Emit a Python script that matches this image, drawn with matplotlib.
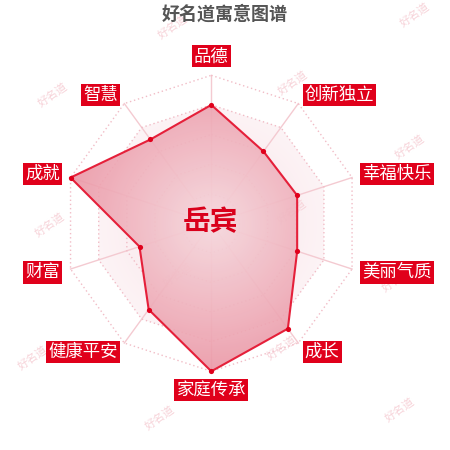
import numpy as np
import matplotlib
matplotlib.use('Agg')
import matplotlib.pyplot as plt
from matplotlib.path import Path
from matplotlib.patches import PathPatch, Polygon

plt.rcParams['font.family'] = ['Noto Sans CJK SC', 'DejaVu Sans']

# data
title = '好名道寓意图谱'
name = '岳宾'
categories = ['品德', '创新独立', '幸福快乐', '美丽气质', '成长',
              '家庭传承', '健康平安', '财富', '成就', '智慧']
values = [80, 60, 61, 61, 88, 100, 72, 51, 100, 70]
max_value = 100
ring_levels = [0.2, 0.4, 0.6, 0.8, 1.0]
watermarks = [(173, 27), (415, 15), (53, 95), (293, 83), (410, 147),
              (50, 225), (292, 212), (397, 280), (178, 275),
              (33, 358), (282, 348), (160, 418), (400, 410)]

RED = '#e0001b'
cx, cy, R = 211.3, 223.3, 148.0

fig = plt.figure(figsize=(4.5, 4.5), dpi=100)
ax = fig.add_axes([0, 0, 1, 1])
ax.set_xlim(0, 450)
ax.set_ylim(450, 0)
ax.axis('off')

n = len(categories)
angles = np.pi / 2 - np.arange(n) * 2 * np.pi / n


def pts(rs):
    rs = np.asarray(rs, dtype=float)
    return np.column_stack([cx + rs * R * np.cos(angles), cy - rs * R * np.sin(angles)])


# radial gradient helper
yy, xx = np.mgrid[0:450, 0:450]
rr = np.hypot(xx - cx, yy - cy) / R


def gradient_img(c0, c1, rmax):
    t = np.clip(rr / rmax, 0, 1)[..., None]
    c0 = np.array(c0) / 255.0
    c1 = np.array(c1) / 255.0
    return c0 * (1 - t) + c1 * t


# background inside 0.8 ring
bg_poly = pts([0.8] * n)
bg_clip = PathPatch(Path(np.vstack([bg_poly, bg_poly[:1]]), closed=True),
                    facecolor='none', edgecolor='none')
ax.add_patch(bg_clip)
im = ax.imshow(gradient_img((248, 226, 231), (253, 244, 246), 0.8),
               extent=(0, 450, 450, 0), zorder=1, interpolation='bilinear')
im.set_clip_path(bg_clip)

# watermarks (under the chart fill)
for wx, wy in watermarks:
    ax.text(wx, wy, '好名道', fontsize=8, color='#f7d3d9', rotation=35,
            ha='center', va='center', zorder=1.5, style='italic')

# spokes and rings
outer = pts([1.0] * n)
for x, y in outer:
    ax.plot([cx, x], [cy, y], color='#f4cad1', lw=1, zorder=2)
for lv in ring_levels:
    p = pts([lv] * n)
    p = np.vstack([p, p[:1]])
    ax.plot(p[:, 0], p[:, 1], color='#f1bcc6', lw=1, ls=(0, (1, 2)), zorder=2)

# data polygon
r_data = np.array(values) / max_value
dp = pts(r_data)
clip = PathPatch(Path(np.vstack([dp, dp[:1]]), closed=True),
                 facecolor='none', edgecolor='none')
ax.add_patch(clip)
im2 = ax.imshow(gradient_img((246, 218, 223), (235, 150, 165), 1.0),
                extent=(0, 450, 450, 0), zorder=3, interpolation='bilinear',
                alpha=0.9)
im2.set_clip_path(clip)
ax.add_patch(Polygon(dp, closed=True, fill=False, edgecolor='#e5203a', lw=1.5, zorder=4))
ax.scatter(dp[:, 0], dp[:, 1], s=14, color=RED, zorder=5, linewidths=0)

# axis labels
box = dict(boxstyle='square,pad=0.12', facecolor=RED, edgecolor='none')
for i, cat in enumerate(categories):
    a = angles[i]
    c, s = np.cos(a), np.sin(a)
    if abs(c) < 1e-6:
        rl = R + 19
        ha = 'center'
    else:
        rl = R + 11
        ha = 'left' if c > 0 else 'right'
    lx, ly = cx + rl * c, cy - rl * s
    ax.text(lx, ly, cat, fontsize=12.5, color='white', ha=ha, va='center',
            bbox=box, zorder=7)

# center name and title
ax.text(cx - 1, cy - 1, name, fontsize=20, color='#d9001b', fontweight='bold',
        ha='center', va='center', zorder=8)
ax.text(225, 14, title, fontsize=13, color='#555555', fontweight='bold',
        ha='center', va='center', zorder=8)

fig.savefig('out.png', dpi=100)
